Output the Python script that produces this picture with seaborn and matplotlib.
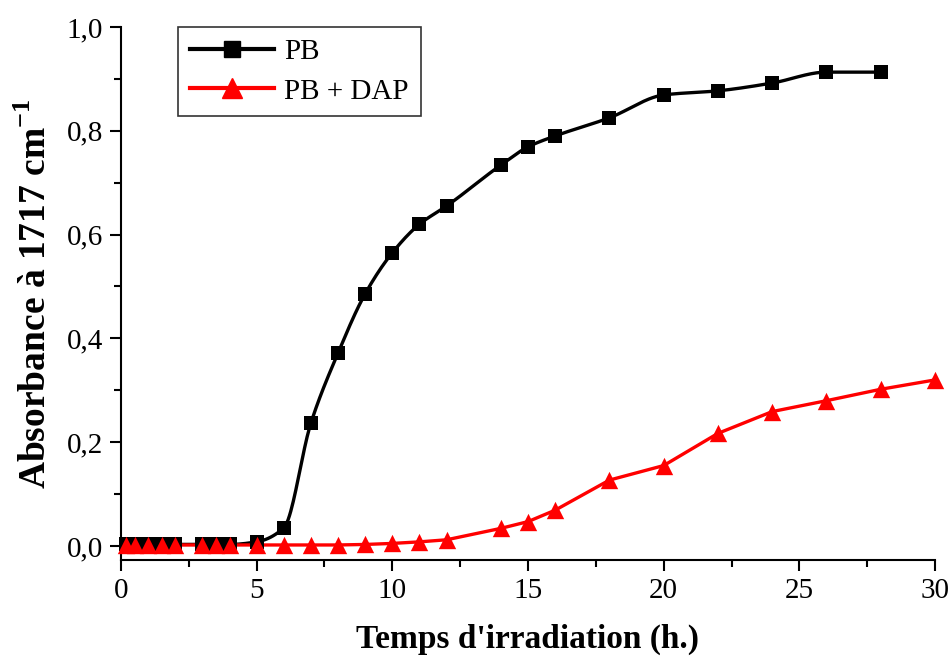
import numpy as np
import pandas as pd
import seaborn as sns
import matplotlib.pyplot as plt
from matplotlib.lines import Line2D
from matplotlib.ticker import MultipleLocator, FuncFormatter

# irradiation time (h) and absorbance at 1717 cm-1
temps = [0.17, 0.5, 1, 1.5, 2, 3, 3.5, 4, 5, 6, 7, 8, 9, 10, 11, 12,
         14, 15, 16, 18, 20, 22, 24, 26, 28, 30]
pb = [0.003, 0.003, 0.003, 0.003, 0.003, 0.003, 0.003, 0.003, 0.008, 0.035,
      0.237, 0.372, 0.486, 0.565, 0.620, 0.655, 0.734, 0.769, 0.790, 0.825,
      0.869, 0.877, 0.892, 0.913, 0.913, None]
pb_dap = [0.002, 0.002, 0.002, 0.002, 0.002, 0.002, 0.002, 0.002, 0.002, 0.002,
          0.002, 0.002, 0.003, 0.005, 0.008, 0.012, 0.034, 0.047, 0.069, 0.127,
          0.155, 0.217, 0.259, 0.280, 0.302, 0.320]


def pchip(x, y, xs):
    """Monotone cubic curve through the points (drawing only)."""
    x = np.asarray(x, float)
    y = np.asarray(y, float)
    h = np.diff(x)
    d = np.diff(y) / h
    m = np.zeros_like(y)
    for k in range(1, len(x) - 1):
        if d[k - 1] * d[k] > 0:
            w1 = 2 * h[k] + h[k - 1]
            w2 = h[k] + 2 * h[k - 1]
            m[k] = (w1 + w2) / (w1 / d[k - 1] + w2 / d[k])
    m[0], m[-1] = d[0], d[-1]
    i = np.clip(np.searchsorted(x, xs) - 1, 0, len(x) - 2)
    t = (xs - x[i]) / h[i]
    h00 = 2 * t**3 - 3 * t**2 + 1
    h10 = t**3 - 2 * t**2 + t
    h01 = -2 * t**3 + 3 * t**2
    h11 = t**3 - t**2
    return h00 * y[i] + h10 * h[i] * m[i] + h01 * y[i + 1] + h11 * h[i] * m[i + 1]


df = pd.DataFrame({"t": temps, "PB": pb, "PB + DAP": pb_dap})

plt.rcParams['font.family'] = ['Liberation Serif', 'DejaVu Serif']
plt.rcParams['mathtext.fontset'] = 'custom'
plt.rcParams['mathtext.rm'] = 'Liberation Serif'
plt.rcParams['mathtext.bf'] = 'Liberation Serif:bold'

fig = plt.figure(figsize=(9.51, 6.58), dpi=100)
ax = fig.add_axes([0.1272, 0.1489, 0.856, 0.8101])

# name, colour, marker, marker size, smoothed line
series = [("PB", "black", "s", 10, True), ("PB + DAP", "red", "^", 12.5, False)]
for name, color, marker, ms, smooth in series:
    sub = df[["t", name]].dropna()
    if smooth:
        xs = np.linspace(sub["t"].min(), sub["t"].max(), 600)
        ys = pchip(sub["t"].values, sub[name].values, xs)
    else:
        xs, ys = sub["t"].values, sub[name].values
    sns.lineplot(x=xs, y=ys, ax=ax, color=color, linewidth=2.4, legend=False,
                 sort=False)
    sns.scatterplot(data=sub, x="t", y=name, ax=ax, color=color, marker=marker,
                    s=ms**2, edgecolor=color, linewidth=0, legend=False,
                    clip_on=False, zorder=3)

ax.set_xlim(0, 30)
ax.set_ylim(-0.027, 1.0)
for s in ["top", "right"]:
    ax.spines[s].set_visible(False)
for s in ["left", "bottom"]:
    ax.spines[s].set_linewidth(1.5)

ax.xaxis.set_major_locator(MultipleLocator(5))
ax.xaxis.set_minor_locator(MultipleLocator(2.5))
ax.yaxis.set_major_locator(MultipleLocator(0.2))
ax.yaxis.set_minor_locator(MultipleLocator(0.1))
ax.yaxis.set_major_formatter(FuncFormatter(lambda v, p: f"{v:.1f}".replace(".", ",")))
ax.tick_params(which="major", direction="out", length=8, width=1.5,
               labelsize=21, pad=5)
ax.tick_params(which="minor", direction="out", length=5, width=1.5)

ax.set_xlabel("Temps d'irradiation (h.)", fontsize=24, fontweight="bold",
              labelpad=14)
ax.set_ylabel(r"Absorbance à 1717 cm$^{\mathbf{-1}}$", fontsize=27,
              fontweight="bold", labelpad=9)

handles = [Line2D([], [], color=c, marker=m, markersize=ms * 1.15, linewidth=3)
           for _, c, m, ms, _ in series]
leg = ax.legend(handles, [n for n, *_ in series], loc="upper left",
                bbox_to_anchor=(0.07, 1.0), fontsize=21, frameon=True,
                fancybox=False, edgecolor="black", handlelength=2.9,
                handletextpad=0.35, borderpad=0.4, labelspacing=0.45,
                borderaxespad=0)
leg.get_frame().set_linewidth(1.2)

fig.savefig("out.png", dpi=100)
